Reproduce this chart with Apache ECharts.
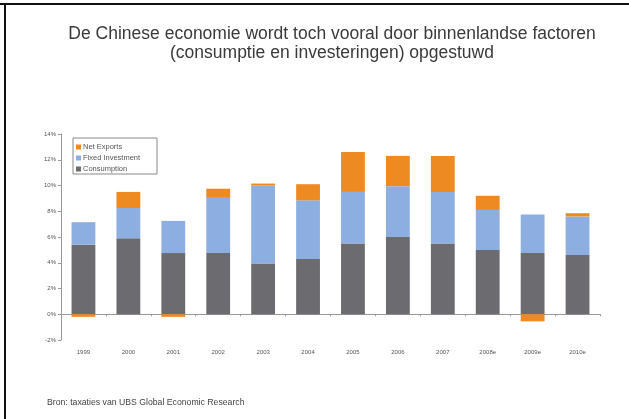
<!DOCTYPE html>
<html><head><meta charset="utf-8">
<script src="https://cdn.jsdelivr.net/npm/echarts@6/dist/echarts.min.js"></script>
<style>html,body{margin:0;padding:0;background:#fff}#c{width:629px;height:419px}</style>
</head><body><div id="c"></div>
<script>
const categories = ['1999','2000','2001','2002','2003','2004','2005','2006','2007','2008e','2009e','2010e'];
const consumption = [5.4, 5.9, 4.75, 4.75, 3.95, 4.3, 5.5, 6.0, 5.5, 5.0, 4.75, 4.6];
const fixedInvestment = [1.75, 2.35, 2.5, 4.35, 6.05, 4.55, 4.0, 3.95, 4.0, 3.1, 3.0, 3.0];
const netExports = [-0.2, 1.25, -0.2, 0.65, 0.15, 1.25, 3.1, 2.35, 2.8, 1.1, -0.55, 0.25];
const yTicks = [-2, 0, 2, 4, 6, 8, 10, 12, 14];

const chart = echarts.init(document.getElementById('c'));
const lbl = {fontFamily:'Liberation Sans', fontSize:6, color:'#555'};
chart.setOption({
  animation:false,
  title:{
    text:'De Chinese economie wordt toch vooral door binnenlandse factoren\n(consumptie en investeringen) opgestuwd',
    left:327, top:20, textAlign:'center',
    textStyle:{fontFamily:'Liberation Sans', fontSize:17.5, fontWeight:'normal', color:'#3a3a3a', lineHeight:19}
  },
  legend:{
    orient:'vertical', left:71, top:138, itemWidth:5, itemHeight:5, itemGap:3,
    icon:'rect',
    data:['Net Exports','Fixed Investment','Consumption'],
    textStyle:{fontFamily:'Liberation Sans', fontSize:7.5, color:'#555', padding:[0,0,0,-3]}
  },
  grid:{left:61, right:29, top:134, bottom:79},
  xAxis:[{
    type:'category', data:categories,
    axisLine:{onZero:true, lineStyle:{color:'#999', width:1}},
    axisTick:{show:true, length:2, lineStyle:{color:'#999'}},
    axisLabel:{show:false}
  },{
    type:'category', data:categories, position:'bottom', offset:0,
    axisLine:{show:false}, axisTick:{show:false},
    axisLabel:Object.assign({margin:9}, lbl)
  }],
  yAxis:{
    type:'value', min:-2, max:14, interval:2,
    axisLine:{show:true, lineStyle:{color:'#999'}},
    axisTick:{show:true, length:3, lineStyle:{color:'#999'}},
    splitLine:{show:false},
    axisLabel:Object.assign({formatter:v=>v+'%', margin:5}, lbl)
  },
  series:[
    {name:'Consumption', type:'bar', stack:'g', data:consumption, barCategoryGap:'47%', itemStyle:{color:'#6b6b70'}},
    {name:'Fixed Investment', type:'bar', stack:'g', data:fixedInvestment, itemStyle:{color:'#8caee0'}},
    {name:'Net Exports', type:'bar', stack:'g', data:netExports, itemStyle:{color:'#ee8a22'}}
  ],
  graphic:[
    {type:'rect', shape:{x:73, y:138, width:84, height:36}, style:{fill:'none', stroke:'#888', lineWidth:1}},
    {type:'line', shape:{x1:0, y1:4, x2:629, y2:4}, style:{stroke:'#111', lineWidth:2}},
    {type:'line', shape:{x1:5, y1:4, x2:5, y2:419}, style:{stroke:'#111', lineWidth:2}},
    {type:'text', left:47, top:398, style:{text:'Bron: taxaties van UBS Global Economic Research', fontFamily:'Liberation Sans', fontSize:8.7, fill:'#444'}}
  ]
});
</script></body></html>
